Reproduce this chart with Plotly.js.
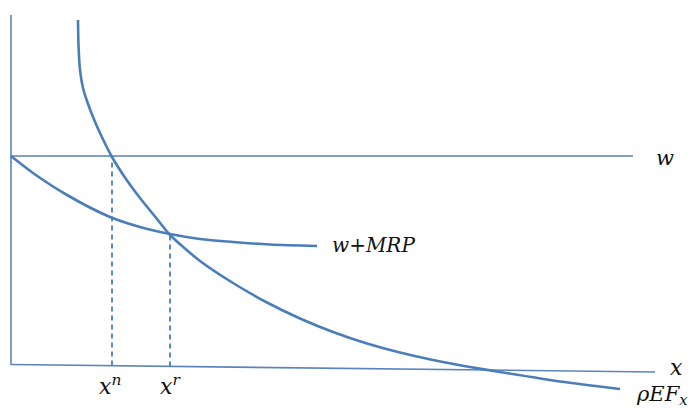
<!DOCTYPE html>
<html>
<head>
<meta charset="utf-8">
<script src="https://cdn.plot.ly/plotly-3.0.1.min.js"></script>
<style>html,body{margin:0;padding:0;background:#fff;}#chart{width:693px;height:408px;}</style>
</head>
<body>
<div id="chart"></div>
<script>
// Schematic curves (x = quantity, y = value)
var efX = [67, 67.5, 69, 72, 76, 82, 89, 101, 115, 129, 144, 159, 174, 189, 222, 256, 289, 322, 356, 389, 422, 456, 489, 549, 609];
var efY = [346, 321, 296, 278, 265, 249, 233, 209, 187, 168, 149.5, 131, 117.5, 105, 83, 63.5, 47.5, 34, 22.5, 13.5, 6, -0.5, -6, -15.5, -23];
var mrpX = [0, 22, 56, 99, 129, 159, 189, 222, 259, 306];
var mrpY = [210, 193, 171, 149, 139, 132, 127, 124, 121.5, 120];
var wLevel = 210;
var wX = [0, 622];
var yAxisX = [0, 0];
var yAxisY = [1, 351];
var xAxisX = [0, 644];
var xAxisY = [1.5, -6];
var xn = 101, xnY = 209;
var xr = 159, xrY = 131;

var blue = '#4a7ebb';
var axisBlue = '#5b84bf';
var traces = [
  {x: yAxisX, y: yAxisY, mode: 'lines', line: {color: axisBlue, width: 1.6}, hoverinfo: 'skip'},
  {x: xAxisX, y: xAxisY, mode: 'lines', line: {color: axisBlue, width: 1.6}, hoverinfo: 'skip'},
  {x: wX, y: [wLevel, wLevel], mode: 'lines', line: {color: '#5d7fae', width: 1.6}, hoverinfo: 'skip'},
  {x: [xn, xn], y: [0.5, xnY], mode: 'lines', line: {color: blue, width: 1.8, dash: '5px,4px'}, hoverinfo: 'skip'},
  {x: [xr, xr], y: [-0.5, xrY], mode: 'lines', line: {color: blue, width: 1.8, dash: '5px,4px'}, hoverinfo: 'skip'},
  {x: efX, y: efY, mode: 'lines', line: {color: blue, width: 2.6, shape: 'spline', smoothing: 0.8}, hoverinfo: 'skip'},
  {x: mrpX, y: mrpY, mode: 'lines', line: {color: blue, width: 2.6, shape: 'spline', smoothing: 0.8}, hoverinfo: 'skip'}
];

var fam = 'DejaVu Serif';
function ann(x, y, text, size) {
  return {x: x, y: y, xref: 'x', yref: 'y', text: text, showarrow: false,
          font: {family: fam, color: '#111', size: size}, xanchor: 'center', yanchor: 'middle'};
}
var layout = {
  width: 693, height: 408,
  margin: {l: 0, r: 0, t: 0, b: 0},
  paper_bgcolor: '#fff', plot_bgcolor: '#fff',
  font: {family: fam},
  showlegend: false,
  xaxis: {range: [-11, 682], visible: false, fixedrange: true},
  yaxis: {range: [-42, 366], visible: false, fixedrange: true},
  annotations: [
    ann(654, 208, '<i>w</i>', 21),
    ann(362, 121, '<i>w</i>+<i>MRP</i>', 20),
    ann(665, -1, '<i>x</i>', 22),
    ann(99, -19, '<i>x</i><sup><i>n</i></sup>', 22),
    ann(159, -19, '<i>x</i><sup><i>r</i></sup>', 22),
    ann(651, -29, '<i>ρEF</i><sub><i>x</i></sub>', 21)
  ]
};
Plotly.newPlot('chart', traces, layout, {staticPlot: true, displayModeBar: false});
</script>
</body>
</html>
